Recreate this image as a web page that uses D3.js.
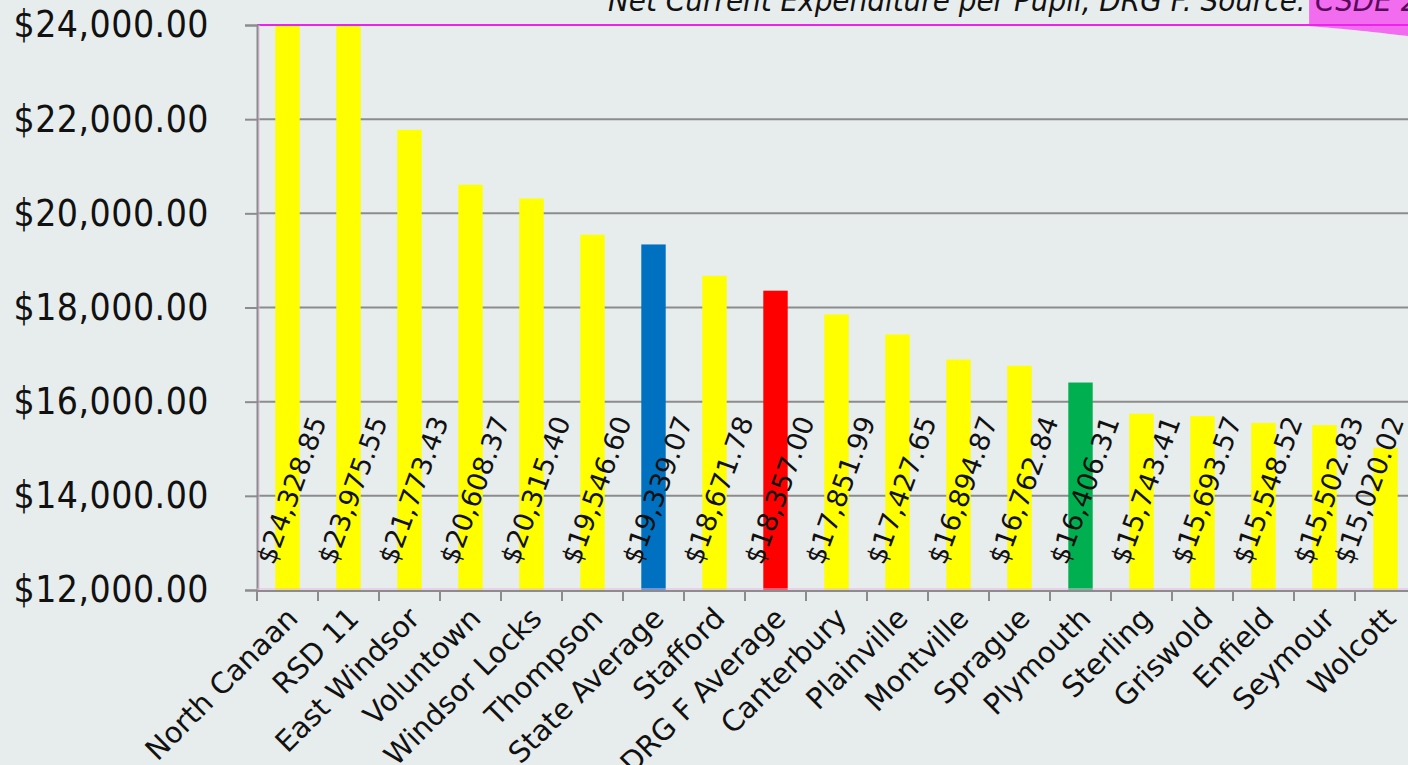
<!DOCTYPE html>
<html>
<head>
<meta charset="utf-8">
<script src="https://cdn.jsdelivr.net/npm/d3@7"></script>
<style>
  html, body { margin: 0; padding: 0; background: #e7ecec; overflow: hidden; }
  svg { display: block; font-family: "DejaVu Sans", sans-serif; }
</style>
</head>
<body>
<svg id="svg"></svg>
<script>
const districts = ["North Canaan", "RSD 11", "East Windsor", "Voluntown", "Windsor Locks", "Thompson",
  "State Average", "Stafford", "DRG F Average", "Canterbury", "Plainville", "Montville", "Sprague",
  "Plymouth", "Sterling", "Griswold", "Enfield", "Seymour", "Wolcott"];
const spending = [24328.85, 23975.55, 21773.43, 20608.37, 20315.40, 19546.60, 19339.07, 18671.78,
  18357.00, 17851.99, 17427.65, 16894.87, 16762.84, 16406.31, 15743.41, 15693.57, 15548.52, 15502.83, 15020.02];
const barColors = ["#ffff00", "#ffff00", "#ffff00", "#ffff00", "#ffff00", "#ffff00", "#0070c0", "#ffff00",
  "#ff0000", "#ffff00", "#ffff00", "#ffff00", "#ffff00", "#00b050", "#ffff00", "#ffff00", "#ffff00", "#ffff00", "#ffff00"];
const yTicks = [12000, 14000, 16000, 18000, 20000, 22000, 24000];
const titleText = "Net Current Expenditure per Pupil, DRG F. Source: ";
const titleSource = "CSDE 2012-13";

const width = 1408, height = 765;
const plotLeft = 257, plotTop = 25, plotBottom = 590, plotRight = 257 + 61 * districts.length;

const svg = d3.select("#svg").attr("width", width).attr("height", height);

const x = d3.scaleBand().domain(districts).range([plotLeft, plotRight]).paddingInner(0.6).paddingOuter(0.3);
const y = d3.scaleLinear().domain([12000, 24000]).range([plotBottom, plotTop]);
const step = x.step();
const money = d => "$" + d3.format(",.2f")(d);

// clip bars to plot area
svg.append("clipPath").attr("id", "plot")
  .append("rect").attr("x", plotLeft).attr("y", plotTop).attr("width", plotRight - plotLeft).attr("height", plotBottom - plotTop);

// gridlines
svg.append("g").selectAll("line").data(yTicks.slice(1)).join("line")
  .attr("x1", plotLeft).attr("x2", plotRight)
  .attr("y1", d => y(d)).attr("y2", d => y(d))
  .attr("stroke", "#8c8c8c").attr("stroke-width", 2);

// highlight layer, then title (cut off at top like the source slide)
const hl = svg.append("g");
const title = svg.append("text").attr("x", 608).attr("y", 11)
  .attr("font-size", 31).attr("font-style", "italic").attr("fill", "#111")
  .attr("font-family", "'DejaVu Sans Condensed', 'DejaVu Sans'").attr("font-stretch", "condensed");
title.append("tspan").text(titleText);
title.append("tspan").attr("fill", "#5a0a5a").text(titleSource);
const srcStart = 608 + title.node().getSubStringLength(0, titleText.length);
hl.append("rect").attr("x", srcStart - 6).attr("y", 0).attr("width", width - srcStart + 6).attr("height", 26)
  .attr("fill", "#f26cf0");
hl.append("path")
  .attr("d", `M${srcStart - 6},26 L${width},26 L${width},36 C1390,34 1360,30 1320,27 Z`)
  .attr("fill", "#f26cf0");

// bars
svg.append("g").attr("clip-path", "url(#plot)").selectAll("rect").data(districts).join("rect")
  .attr("x", d => x(d))
  .attr("width", x.bandwidth())
  .attr("y", (d, i) => y(spending[i]))
  .attr("height", (d, i) => plotBottom - y(spending[i]))
  .attr("fill", (d, i) => barColors[i]);

// plot border
svg.append("line").attr("x1", plotLeft).attr("x2", width).attr("y1", plotTop).attr("y2", plotTop)
  .attr("stroke", "#ee22ee").attr("stroke-width", 2);
svg.append("line").attr("x1", plotLeft + 2).attr("x2", plotLeft + 2).attr("y1", plotTop).attr("y2", plotBottom)
  .attr("stroke", "#e9b8e9").attr("stroke-width", 1);

// y axis
const yAxis = svg.append("g").attr("transform", `translate(${plotLeft},0)`)
  .call(d3.axisLeft(y).tickValues(yTicks).tickSize(12).tickPadding(36).tickFormat(money));
yAxis.attr("font-family", "'DejaVu Sans Condensed', 'DejaVu Sans'").attr("font-size", 37);
yAxis.select(".domain").attr("stroke", "#8c8c8c").attr("stroke-width", 2);
yAxis.selectAll(".tick line").attr("stroke", "#8c8c8c").attr("stroke-width", 2);
yAxis.selectAll(".tick text").attr("fill", "#111").attr("font-stretch", "condensed").attr("letter-spacing", 0.5);

// x axis
svg.append("line").attr("x1", plotLeft).attr("x2", plotRight).attr("y1", plotBottom - 1).attr("y2", plotBottom - 1)
  .attr("stroke", "#e9b8e9").attr("stroke-width", 1);
svg.append("line").attr("x1", plotLeft).attr("x2", plotRight).attr("y1", plotBottom + 1).attr("y2", plotBottom + 1)
  .attr("stroke", "#8c8c8c").attr("stroke-width", 2);
svg.append("g").selectAll("line").data(d3.range(districts.length + 1)).join("line")
  .attr("x1", i => plotLeft + i * step).attr("x2", i => plotLeft + i * step)
  .attr("y1", plotBottom).attr("y2", plotBottom + 11)
  .attr("stroke", "#8c8c8c").attr("stroke-width", 2);

// category labels
svg.append("g").selectAll("text").data(districts).join("text")
  .attr("transform", d => `translate(${x(d) + x.bandwidth() / 2 + 12},${plotBottom + 30}) rotate(-45)`)
  .attr("text-anchor", "end")
  .attr("font-size", 29)
  .attr("fill", "#111")
  .text(d => d);

// value labels, nudged back left when they would run off the right edge
const valueLabels = svg.append("g").selectAll("text").data(districts).join("text")
  .attr("text-anchor", "middle")
  .attr("dominant-baseline", "central")
  .attr("font-size", 27)
  .attr("fill", "#111")
  .text((d, i) => money(spending[i]));
valueLabels.each(function (d) {
  let cx = x(d) + x.bandwidth() / 2 + 4;
  const el = d3.select(this).attr("transform", `translate(${cx},490) rotate(-70)`);
  const box = this.getBoundingClientRect();
  if (box.right > width + 2) cx -= box.right - (width + 2);
  el.attr("transform", `translate(${cx},490) rotate(-70)`);
});
</script>
</body>
</html>
